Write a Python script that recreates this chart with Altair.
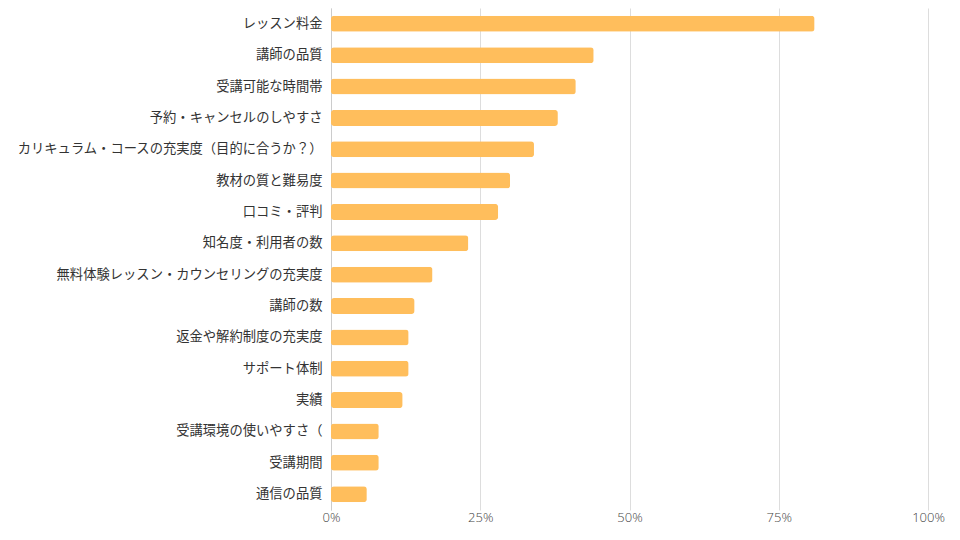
import altair as alt
import pandas as pd

categories = [
    "レッスン料金",
    "講師の品質",
    "受講可能な時間帯",
    "予約・キャンセルのしやすさ",
    "カリキュラム・コースの充実度（目的に合うか？）",
    "教材の質と難易度",
    "口コミ・評判",
    "知名度・利用者の数",
    "無料体験レッスン・カウンセリングの充実度",
    "講師の数",
    "返金や解約制度の充実度",
    "サポート体制",
    "実績",
    "受講環境の使いやすさ（",
    "受講期間",
    "通信の品質",
]
values = [81, 44, 41, 38, 34, 30, 28, 23, 17, 14, 13, 13, 12, 8, 8, 6]

df = pd.DataFrame({"cat": categories, "val": [v / 100 for v in values]})

chart = (
    alt.Chart(df)
    .mark_bar(color="#FFBE5C", cornerRadius=3, height=16)
    .encode(
        y=alt.Y(
            "cat:N",
            sort=categories,
            title=None,
            axis=alt.Axis(
                ticks=False,
                labelPadding=9,
                labelFont="Noto Sans CJK JP",
                labelFontSize=13.3,
                labelColor="#333333",
                labelLimit=400,
                domainColor="#cccccc",
                grid=False,
            ),
        ),
        x=alt.X(
            "val:Q",
            title=None,
            scale=alt.Scale(domain=[0, 1], nice=False),
            axis=alt.Axis(
                format=".0%",
                values=[0, 0.25, 0.5, 0.75, 1],
                ticks=False,
                domain=False,
                grid=True,
                gridColor="#dddddd",
                labelFlush=False,
                labelFont="Open Sans",
                labelFontSize=13,
                labelFontWeight=300,
                labelColor="#444444",
                labelPadding=1,
            ),
        ),
    )
    .properties(
        width=597,
        height=502,
        autosize=alt.AutoSizeParams(type="none"),
        padding={"left": 323, "top": 0, "right": 24, "bottom": 30},
    )
    .configure_view(stroke=None)
    .configure_scale(bandPaddingInner=0.49, bandPaddingOuter=0.25)
)

chart.save("out.html", embed_options={"renderer": "svg", "actions": False})
